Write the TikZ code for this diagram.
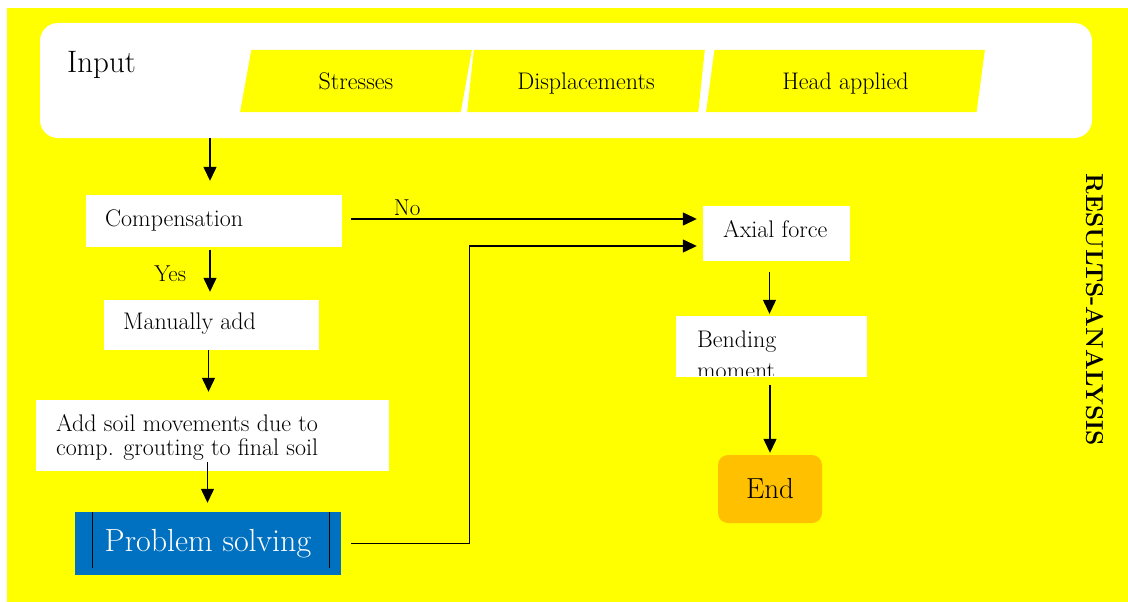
\documentclass[tikz,border=0pt]{standalone}
\usepackage{xcolor}
\usepackage{tikz}
\usetikzlibrary{arrows.meta,positioning,shapes.geometric,calc}

\definecolor{ylw}{RGB}{255,255,0}
\definecolor{solveblue}{RGB}{0,112,192}
\definecolor{endorange}{RGB}{255,192,0}

\begin{document}
\begin{tikzpicture}[x=1pt, y=-1pt,
  every node/.style={font=\fontsize{24}{28}\selectfont},
  box/.style={fill=white,inner sep=0pt},
  txt/.style={anchor=base west,inner sep=0pt},
  para/.style={trapezium,trapezium left angle=76,trapezium right angle=104,
    trapezium stretches=true,fill=ylw,inner sep=0pt,minimum height=62pt,
    text height=16pt,text depth=0pt},
  arr/.style={-{Triangle[length=14pt,width=13pt]},line width=1.3pt}]
  \useasboundingbox (0,0) rectangle (1128,602);
  \fill[ylw] (7,8) rectangle (1128,602);

  % input row
  \node[box,rounded corners=18pt,minimum width=1052pt,minimum height=115pt] (inp) at (566,80.5) {};
  \node[txt,font=\fontsize{31}{35}\selectfont] (inlbl) at (67,73) {Input};
  \node[para,minimum width=232pt] (str) at (356,81) {Stresses};
  \node[para,minimum width=238pt] (disp) at (586,81) {Displacements};
  \node[para,minimum width=279pt] (head) at (845.5,81) {Head applied};

  % left column
  \node[box,minimum width=256pt,minimum height=52pt] (comp) at (214,221) {};
  \node[txt] (comptxt) at (105,226) {Compensation};
  \node[box,minimum width=215pt,minimum height=50pt] (manual) at (211.5,325) {};
  \node[txt] (mantxt) at (123,329) {Manually add};
  \node[box,minimum width=353pt,minimum height=71pt] (addsoil) at (212.5,435.5) {};
  \node[txt] (soiltxt1) at (56,431) {Add soil movements due to};
  \node[txt] (soiltxt2) at (56,455) {comp. grouting to final soil};
  \node[fill=solveblue,text=white,inner sep=0pt,minimum width=266pt,minimum height=63pt,
    font=\fontsize{32}{36}\selectfont] (solve) at (208,543.5) {Problem solving};
  \draw[line width=1.2pt] ([xshift=18pt]solve.north west) -- ++(0,56);
  \draw[line width=1.2pt] ([xshift=-12pt]solve.north east) -- ++(0,56);

  % right column
  \node[box,minimum width=147pt,minimum height=55pt] (axial) at (776.5,233.5) {};
  \node[txt] (axtxt) at (723,237) {Axial force};
  \node[box,minimum width=191pt,minimum height=61pt] (bend) at (771.5,346.5) {};
  \begin{scope}
    \clip (bend.north west) rectangle ([yshift=2pt]bend.south east);
    \node[txt] (bendtxt1) at (697,347) {Bending};
    \node[txt] (bendtxt2) at (697,378) {moment};
  \end{scope}
  \node[fill=endorange,rounded corners=10pt,minimum width=104pt,minimum height=68pt,
    font=\fontsize{29}{33}\selectfont] (fin) at (770,489) {End};

  \node[rotate=-90,font=\bfseries\fontsize{24.5}{28}\selectfont] (res) at (1095,310) {RESULTS-ANALYSIS};

  % connectors
  \draw[arr,shorten >=14pt] ([xshift=-4pt]comp.north |- inp.south) -- ([xshift=-4pt]comp.north);
  \draw[arr,shorten <=3pt,shorten >=8pt] ([xshift=-4pt]comp.south) -- ([xshift=-4pt]comp.south |- manual.north)
    node[midway,left=20pt,font=\fontsize{23}{27}\selectfont] {Yes};
  \draw[arr,shorten >=8pt] ([xshift=-3pt]manual.south) -- ([xshift=-3pt]manual.south |- addsoil.north);
  \draw[arr,shorten <=-9pt,shorten >=9pt] ([xshift=-5pt]addsoil.south) -- ([xshift=-5pt]addsoil.south |- solve.north);
  \draw[arr,shorten <=9pt,shorten >=6pt] ([yshift=2pt]comp.east) -- ([yshift=2pt]comp.east -| axial.west)
    node[pos=0.18,above,inner sep=3pt,font=\fontsize{23}{27}\selectfont] {No};
  \draw[arr,shorten <=10pt,shorten >=6pt] (solve.east) -- ++(128,0) |- ([yshift=-12.5pt]axial.west);
  \draw[arr,shorten <=11pt,shorten >=2pt] ([xshift=-7pt]axial.south) -- ([xshift=-7pt]axial.south |- bend.north);
  \draw[arr,shorten <=8pt,shorten >=2pt] (bend.south -| fin.north) -- (fin.north);
\end{tikzpicture}
\end{document}
